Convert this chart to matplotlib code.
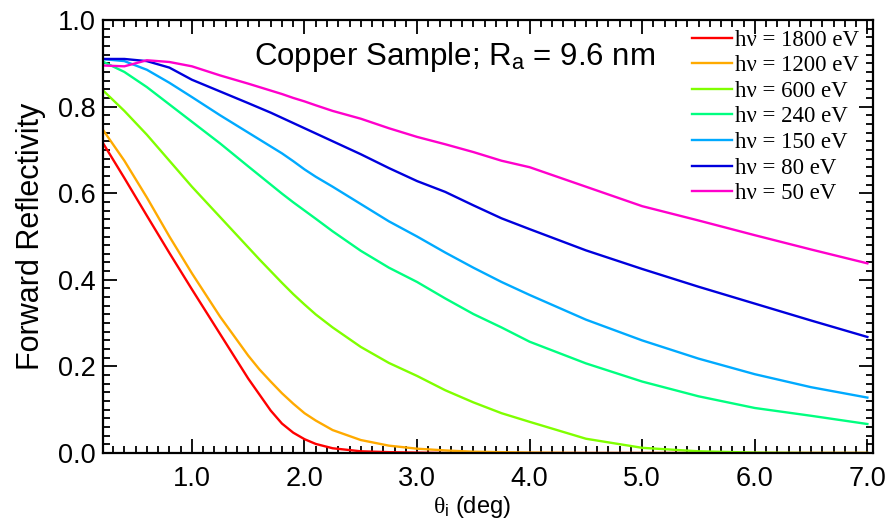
import matplotlib
matplotlib.use("Agg")
import matplotlib.pyplot as plt
from matplotlib.ticker import MultipleLocator

plt.rcParams['font.family'] = ['Liberation Sans', 'DejaVu Sans']
plt.rcParams['mathtext.fontset'] = 'custom'
plt.rcParams['mathtext.rm'] = 'Liberation Sans'
plt.rcParams['mathtext.it'] = 'Liberation Serif'

# incidence angle (deg)
theta = [0.2, 0.4, 0.6, 0.8, 1.0, 1.25, 1.5, 1.6, 1.7, 1.8, 1.9, 2.0, 2.1, 2.25,
         2.5, 2.75, 3.0, 3.25, 3.5, 3.75, 4.0, 4.5, 5.0, 5.5, 6.0, 6.5, 7.0]

r_1800 = [0.72, 0.635, 0.548, 0.462, 0.378, 0.275, 0.172, 0.135, 0.098, 0.068,
          0.047, 0.032, 0.021, 0.011, 0.004, 0.002, 0.001, 0.0, 0.0, 0.0, 0.0,
          0.0, 0.0, 0.0, 0.0, 0.0, 0.0]
r_1200 = [0.75, 0.675, 0.59, 0.50, 0.415, 0.315, 0.225, 0.193, 0.165, 0.138,
          0.114, 0.092, 0.075, 0.053, 0.03, 0.017, 0.01, 0.006, 0.003, 0.002,
          0.001, 0.0, 0.0, 0.0, 0.0, 0.0, 0.0]
r_600 = [0.84, 0.79, 0.735, 0.675, 0.615, 0.545, 0.475, 0.447, 0.42, 0.393,
         0.367, 0.343, 0.32, 0.29, 0.245, 0.208, 0.178, 0.145, 0.117, 0.092,
         0.072, 0.033, 0.012, 0.004, 0.001, 0.0, 0.0]
r_240 = [0.905, 0.88, 0.845, 0.805, 0.765, 0.715, 0.662, 0.641, 0.62, 0.599,
         0.579, 0.56, 0.541, 0.512, 0.467, 0.428, 0.395, 0.357, 0.321, 0.29,
         0.257, 0.207, 0.165, 0.131, 0.104, 0.086, 0.067]
r_150 = [0.91, 0.905, 0.885, 0.855, 0.822, 0.78, 0.74, 0.724, 0.708, 0.692,
         0.674, 0.655, 0.638, 0.615, 0.575, 0.535, 0.50, 0.463, 0.428, 0.395,
         0.365, 0.308, 0.26, 0.218, 0.182, 0.152, 0.128]
r_80 = [0.91, 0.91, 0.905, 0.89, 0.862, 0.835, 0.808, 0.797, 0.786, 0.774,
        0.762, 0.75, 0.738, 0.72, 0.69, 0.658, 0.628, 0.603, 0.572, 0.542,
        0.517, 0.468, 0.425, 0.384, 0.345, 0.306, 0.268]
r_50 = [0.895, 0.893, 0.907, 0.903, 0.893, 0.872, 0.853, 0.845, 0.837, 0.829,
        0.82, 0.812, 0.803, 0.79, 0.772, 0.75, 0.73, 0.713, 0.695, 0.675,
        0.66, 0.615, 0.57, 0.537, 0.503, 0.47, 0.438]

series = [r_1800, r_1200, r_600, r_240, r_150, r_80, r_50]
energies = [1800, 1200, 600, 240, 150, 80, 50]
colors = ['#ff0000', '#ffaa00', '#80ff00', '#00ff80', '#00aaff', '#0000dd', '#ff00cc']

fig = plt.figure(figsize=(8.9, 5.23), dpi=100)
ax = fig.add_axes([0.1157, 0.1338, 0.8652, 0.8280])

for r, e, c in zip(series, energies, colors):
    ax.plot(theta, r, color=c, lw=1.7, label='h\u03bd = %d eV' % e)

ax.set_xlim(0.21, 7.05)
ax.set_ylim(0.0, 1.0)
ax.xaxis.set_major_locator(MultipleLocator(1.0))
ax.xaxis.set_minor_locator(MultipleLocator(0.1))
ax.yaxis.set_major_locator(MultipleLocator(0.2))
ax.yaxis.set_minor_locator(MultipleLocator(0.02))
ax.xaxis.set_major_formatter(plt.FormatStrFormatter('%.1f'))
ax.yaxis.set_major_formatter(plt.FormatStrFormatter('%.1f'))
ax.tick_params(which='both', direction='in', top=True, right=True,
               width=1.3, labelsize=19.5)
ax.tick_params(which='major', length=10)
ax.tick_params(which='minor', length=5)
ax.tick_params(axis='x', which='major', pad=9)
ax.tick_params(axis='y', which='major', pad=5)
for s in ax.spines.values():
    s.set_linewidth(1.6)

ax.set_ylabel('Forward Reflectivity', fontsize=22)
ax.yaxis.set_label_coords(-0.074, 0.5)
ax.set_xlabel(r'$\theta_{\rm i}$ (deg)', fontsize=17)
ax.xaxis.set_label_coords(0.479, -0.095)

ax.text(0.457, 0.915, 'Copper Sample; R$_{\\rm a}$ = 9.6 nm', transform=ax.transAxes,
        ha='center', va='center', fontsize=22.5)

leg = ax.legend(loc='upper right', bbox_to_anchor=(0.982, 0.978), frameon=False,
                prop={'family': 'Liberation Serif', 'size': 16.5},
                handlelength=1.75, handletextpad=0.15, labelspacing=0.2,
                borderaxespad=0.0, borderpad=0.0)

fig.savefig('out.png', dpi=100)
